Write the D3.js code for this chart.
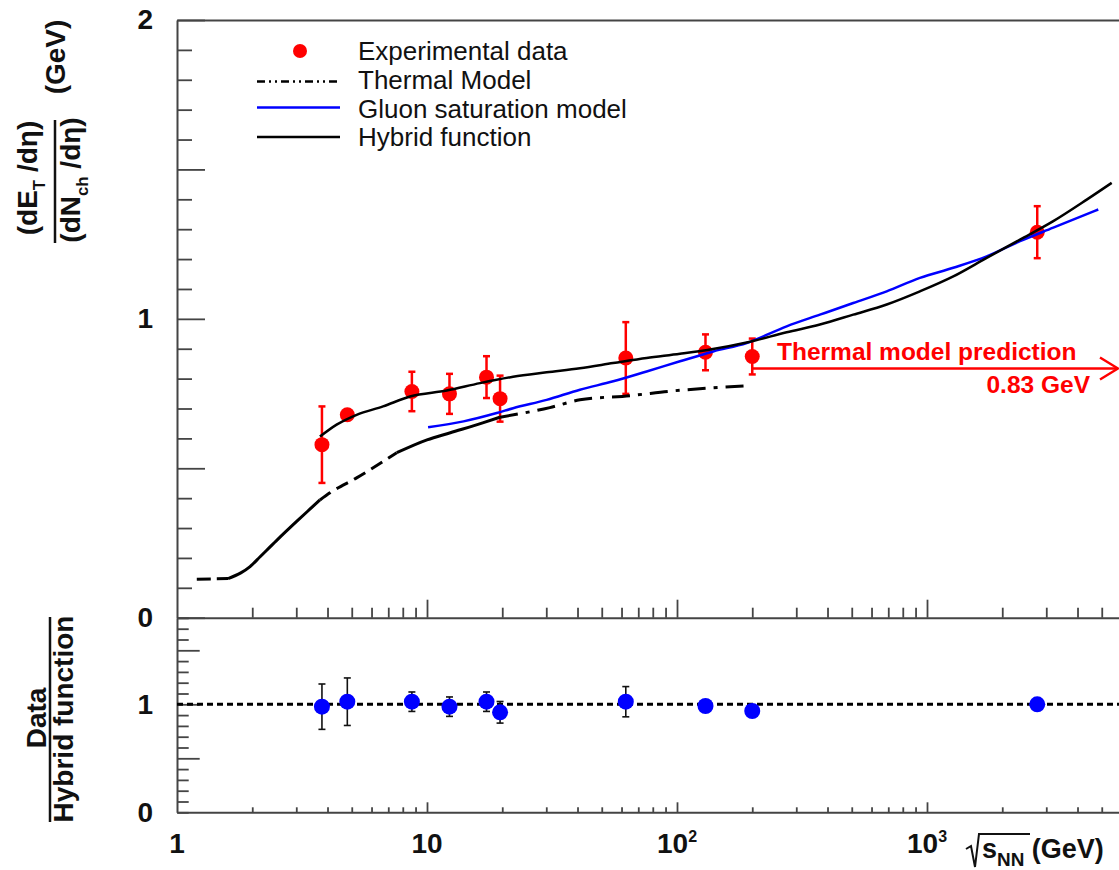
<!DOCTYPE html>
<html><head><meta charset="utf-8">
<script src="https://cdn.jsdelivr.net/npm/d3@7"></script>
<style>
body{margin:0;background:#fff}
svg{display:block}
text{font-family:"Liberation Sans",Arial,Helvetica,sans-serif}
</style>
</head><body>
<svg id="c" width="1119" height="870"></svg>
<script>
// ---------------- data ----------------
const energies   = [3.8, 4.8, 8.7, 12.3, 17.3, 19.6, 62.4, 130, 200, 2760];
const etPerNch   = [0.579, 0.679, 0.757, 0.749, 0.805, 0.733, 0.869, 0.888, 0.874, 1.290];
const etPerNchErr= [0.128, 0, 0.066, 0.067, 0.070, 0.077, 0.120, 0.060, 0.060, 0.087];
const ratioVals  = [0.978, 1.024, 1.024, 0.978, 1.024, 0.926, 1.024, 0.984, 0.938, 1.000];
const ratioErr   = [0.21, 0.22, 0.09, 0.09, 0.09, 0.10, 0.14, 0, 0, 0];

const thermalX = [1.2, 1.6, 1.8, 1.96, 2.15, 2.5, 3.01, 3.4, 3.73, 4.09, 5.23, 7.57, 10, 12.4, 16.7, 19.6, 31, 40.9, 64.9, 96.4, 139, 192];
const thermalY = [0.129, 0.131, 0.150, 0.171, 0.204, 0.258, 0.322, 0.363, 0.394, 0.418, 0.468, 0.552, 0.595, 0.619, 0.652, 0.671, 0.703, 0.729, 0.743, 0.759, 0.769, 0.776];

const gluonX = [10.1, 14.0, 19.0, 22.1, 30.1, 40.9, 55.6, 75.6, 102.8, 139.7, 190, 274.6, 373, 507, 690, 937, 1274, 1733, 2355, 3200, 4842];
const gluonY = [0.637, 0.657, 0.685, 0.701, 0.729, 0.763, 0.791, 0.824, 0.858, 0.891, 0.919, 0.975, 1.014, 1.053, 1.092, 1.137, 1.171, 1.209, 1.260, 1.305, 1.366];

const hybridX = [3.73, 4.35, 5.23, 6.67, 8.55, 12.0, 16.3, 22.1, 30.1, 40.9, 55.5, 75.6, 102.8, 139.3, 190, 274.6, 373, 507, 690, 937, 1274, 1733, 2355, 3200, 4355, 5480];
const hybridY = [0.606, 0.646, 0.679, 0.707, 0.740, 0.760, 0.785, 0.806, 0.821, 0.835, 0.852, 0.869, 0.883, 0.899, 0.921, 0.955, 0.981, 1.014, 1.048, 1.092, 1.142, 1.204, 1.265, 1.327, 1.399, 1.455];

const topYLabels    = [0, 1, 2];
const bottomYLabels = [0, 1];
const xTickLabels   = [["1", null], ["10", null], ["10", "2"], ["10", "3"]];
const xTickValues   = [1, 10, 100, 1000];
const legendItems   = ["Experimental data", "Thermal Model", "Gluon saturation model", "Hybrid function"];
const thermalPrediction = "0.83 GeV";

// ---------------- setup ----------------
const svg = d3.select("#c");
const X0 = 177, X1 = 1119;
const x  = d3.scaleLog().domain([1, Math.pow(10, (X1 - X0) / 250)]).range([X0, X1]);
const yT = d3.scaleLinear().domain([0, 2]).range([617.7, 20]);
const yB = d3.scaleLinear().domain([0, 1.8]).range([812.3, 617.9]);

const AX = "#444", RED = "#ff0000", BLUE = "#0000ff";
const FONT = '"Liberation Sans",Arial,Helvetica,sans-serif';

function rich(parent, parts, size, weight, fill, anchor, subScale) {
  const sc = subScale || 0.6;
  const t = parent.append("text").attr("font-size", size).attr("font-weight", weight)
    .attr("fill", fill).attr("text-anchor", anchor);
  let cur = 0;
  parts.forEach(p => {
    const [s, kind] = Array.isArray(p) ? p : [p, null];
    const target = kind === "sub" ? size * 0.3 : kind === "sup" ? -size * 0.4 : 0;
    const fs = kind ? size * sc : size;
    t.append("tspan").attr("font-size", fs).attr("dy", target - cur).text(s);
    cur = target;
  });
  return t;
}
function styleAxis(g) {
  g.select(".domain").attr("stroke", AX).attr("stroke-width", 2);
  g.selectAll(".tick line").attr("stroke", AX).attr("stroke-width", 1.8);
  g.attr("font-family", FONT).attr("font-size", 28).attr("font-weight", "bold");
  g.selectAll(".tick text").attr("fill", "#111");
}

// x ticks (log minor)
const xMinor = [];
for (let d = 1; d <= 1000; d *= 10) for (let k = 1; k <= 9; k++) { const v = d * k; if (v <= x.domain()[1]) xMinor.push(v); }
const isDecade = v => Math.abs(Math.log10(v) - Math.round(Math.log10(v))) < 1e-9;

// ---------------- top panel axes ----------------
const topTicks = d3.range(0, 21).map(i => +(i * 0.1).toFixed(1));
const gLT = svg.append("g").attr("transform", `translate(${X0},0)`)
  .call(d3.axisLeft(yT).tickValues(topTicks).tickSizeInner(-15).tickSizeOuter(0).tickPadding(24)
    .tickFormat(v => topYLabels.includes(v) ? String(v) : ""));
styleAxis(gLT);
gLT.selectAll(".tick line").filter(d => Math.abs(d * 2 - Math.round(d * 2)) < 1e-6).attr("x2", 28);

const gBT = svg.append("g").attr("transform", `translate(0,${yT(0)})`)
  .call(d3.axisBottom(x).tickValues(xMinor.filter(v => v > 1)).tickSizeInner(-10).tickSizeOuter(0).tickFormat(""));
styleAxis(gBT);
gBT.selectAll(".tick line").filter(d => isDecade(d)).attr("y2", -18);

const gTop = svg.append("g").attr("transform", `translate(0,${yT(2)})`)
  .call(d3.axisTop(x).tickValues([]).tickSizeOuter(0));
styleAxis(gTop);

// ---------------- bottom panel axes ----------------
const botTicks = d3.range(0, 19).map(i => +(i * 0.1).toFixed(1));
const gLB = svg.append("g").attr("transform", `translate(${X0},0)`)
  .call(d3.axisLeft(yB).tickValues(botTicks).tickSizeInner(-11.7).tickSizeOuter(0).tickPadding(24)
    .tickFormat(v => bottomYLabels.includes(v) ? String(v) : ""));
styleAxis(gLB);
gLB.selectAll(".tick line").filter(d => Math.abs(d * 2 - Math.round(d * 2)) < 1e-6 && d > 0).attr("x2", 22.7);

const gBB = svg.append("g").attr("transform", `translate(0,${yB(0)})`)
  .call(d3.axisBottom(x).tickValues(xMinor.filter(v => v > 1)).tickSizeInner(-5).tickSizeOuter(0).tickFormat(""));
styleAxis(gBB);
gBB.selectAll(".tick line").filter(d => isDecade(d)).attr("y2", -10);

// x tick labels
xTickValues.forEach((v, i) => {
  const [base, sup] = xTickLabels[i];
  const g = svg.append("g").attr("transform", `translate(${x(v)},853)`);
  const t = g.append("text").attr("font-size", 28).attr("font-weight", "bold").attr("fill", "#111").attr("text-anchor", "middle");
  t.append("tspan").text(base);
  if (sup) t.append("tspan").attr("font-size", 16).attr("dy", -11).text(sup);
});

// x-axis title  √s_NN (GeV)
svg.append("path").attr("d", "M966,849 L971,846 L975,867 L979,834 L1030,834")
  .attr("fill", "none").attr("stroke", "#111").attr("stroke-width", 2);
{
  const g = svg.append("g").attr("transform", "translate(982,858)");
  rich(g, ["s", ["NN", "sub"], "  (GeV)"], 27, "bold", "#111", "start", 0.7);
}

// y-axis titles (top)
{
  const g1 = svg.append("g").attr("transform", "translate(37,178) rotate(-90)");
  rich(g1, ["(dE", ["T", "sub"], " /dη)"], 28, "bold", "#111", "middle");
  const g2 = svg.append("g").attr("transform", "translate(80,180) rotate(-90)");
  rich(g2, ["(dN", ["ch", "sub"], " /dη)"], 28, "bold", "#111", "middle");
  svg.append("line").attr("x1", 55).attr("x2", 55).attr("y1", 120).attr("y2", 243)
    .attr("stroke", "#111").attr("stroke-width", 2.5);
  const g3 = svg.append("g").attr("transform", "translate(65,57) rotate(-90)");
  rich(g3, ["(GeV)"], 28, "bold", "#111", "middle");
}
// y-axis title (bottom)
{
  const g1 = svg.append("g").attr("transform", "translate(46,718) rotate(-90)");
  rich(g1, ["Data"], 28, "bold", "#111", "middle");
  svg.append("line").attr("x1", 50).attr("x2", 50).attr("y1", 617).attr("y2", 822)
    .attr("stroke", "#111").attr("stroke-width", 2.5);
  const g2 = svg.append("g").attr("transform", "translate(73,719) rotate(-90)");
  rich(g2, ["Hybrid function"], 28, "bold", "#111", "middle");
}

// ---------------- top panel data ----------------
const pts = energies.map((e, i) => ({ e, v: etPerNch[i], err: etPerNchErr[i] }));
const gErr = svg.append("g").attr("stroke", RED).attr("stroke-width", 2.5);
pts.filter(p => p.err > 0).forEach(p => {
  const cx = x(p.e), y1 = yT(p.v + p.err), y2 = yT(p.v - p.err);
  gErr.append("line").attr("x1", cx).attr("x2", cx).attr("y1", y1).attr("y2", y2);
  gErr.append("line").attr("x1", cx - 3.5).attr("x2", cx + 3.5).attr("y1", y1).attr("y2", y1);
  gErr.append("line").attr("x1", cx - 3.5).attr("x2", cx + 3.5).attr("y1", y2).attr("y2", y2);
});
svg.append("g").selectAll("circle").data(pts).join("circle")
  .attr("cx", p => x(p.e)).attr("cy", p => yT(p.v)).attr("r", 7.5).attr("fill", RED);

const lineT = d3.line().x(d => x(d[0])).y(d => yT(d[1])).curve(d3.curveMonotoneX);
// thermal model, drawn in pieces with the line pattern seen in the figure
const thermal = thermalX.map((v, i) => [v, thermalY[i]]);
const thermalPieces = [
  { from: 1.2, to: 1.6, dash: "14,6" },
  { from: 1.6, to: 3.73, dash: null },
  { from: 3.73, to: 7.57, dash: "13,7" },
  { from: 7.57, to: 19.6, dash: null },
  { from: 19.6, to: 192, dash: "18,8,4,8" }
];
thermalPieces.forEach(pc => {
  const seg = thermal.filter(d => d[0] >= pc.from - 1e-9 && d[0] <= pc.to + 1e-9);
  svg.append("path").attr("d", lineT(seg)).attr("fill", "none").attr("stroke", "#000")
    .attr("stroke-width", 3).attr("stroke-dasharray", pc.dash);
});
svg.append("path").attr("d", lineT(gluonX.map((v, i) => [v, gluonY[i]])))
  .attr("fill", "none").attr("stroke", BLUE).attr("stroke-width", 2.5);
svg.append("path").attr("d", lineT(hybridX.map((v, i) => [v, hybridY[i]])))
  .attr("fill", "none").attr("stroke", "#000").attr("stroke-width", 2.5);

// thermal model prediction annotation
{
  const ax = x(energies[8]), ay = 368.5;
  const ga = svg.append("g").attr("stroke", RED).attr("stroke-width", 2.5).attr("fill", "none");
  ga.append("line").attr("x1", ax).attr("x2", 1118).attr("y1", ay).attr("y2", ay);
  ga.append("path").attr("d", `M1100,${ay - 11} L1118,${ay} L1100,${ay + 11}`);
  svg.append("text").attr("x", 777).attr("y", 360).attr("font-size", 24.5).attr("font-weight", "bold")
    .attr("fill", RED).text("Thermal model prediction");
  svg.append("text").attr("x", 1090).attr("y", 393).attr("font-size", 24.5).attr("font-weight", "bold")
    .attr("fill", RED).attr("text-anchor", "end").text(thermalPrediction);
}

// ---------------- legend ----------------
{
  const rows = [51, 80, 108.5, 136.5];
  const lg = svg.append("g");
  lg.append("circle").attr("cx", 300).attr("cy", rows[0]).attr("r", 7).attr("fill", RED);
  lg.append("line").attr("x1", 257).attr("x2", 340).attr("y1", rows[1] + 1.5).attr("y2", rows[1] + 1.5)
    .attr("stroke", "#000").attr("stroke-width", 2.5).attr("stroke-dasharray", "8,4,2,4,2,4");
  lg.append("line").attr("x1", 257).attr("x2", 340).attr("y1", rows[2] - 1).attr("y2", rows[2] - 1)
    .attr("stroke", BLUE).attr("stroke-width", 2.5);
  lg.append("line").attr("x1", 257).attr("x2", 340).attr("y1", rows[3] + 0.5).attr("y2", rows[3] + 0.5)
    .attr("stroke", "#000").attr("stroke-width", 2.5);
  legendItems.forEach((s, i) => {
    lg.append("text").attr("x", 358).attr("y", rows[i] + 9).attr("font-size", 26).attr("fill", "#111").text(s);
  });
}

// ---------------- bottom panel data ----------------
svg.append("line").attr("x1", x(1)).attr("x2", X1).attr("y1", yB(1)).attr("y2", yB(1))
  .attr("stroke", "#000").attr("stroke-width", 3).attr("stroke-dasharray", "6,4");
const rpts = energies.map((e, i) => ({ e, v: ratioVals[i], err: ratioErr[i] }));
const gErrB = svg.append("g").attr("stroke", "#111").attr("stroke-width", 1.6);
rpts.filter(p => p.err > 0).forEach(p => {
  const cx = x(p.e), y1 = yB(p.v + p.err), y2 = yB(p.v - p.err);
  gErrB.append("line").attr("x1", cx).attr("x2", cx).attr("y1", y1).attr("y2", y2);
  gErrB.append("line").attr("x1", cx - 3.5).attr("x2", cx + 3.5).attr("y1", y1).attr("y2", y1);
  gErrB.append("line").attr("x1", cx - 3.5).attr("x2", cx + 3.5).attr("y1", y2).attr("y2", y2);
});
svg.append("g").selectAll("circle").data(rpts).join("circle")
  .attr("cx", p => x(p.e)).attr("cy", p => yB(p.v)).attr("r", 8).attr("fill", BLUE);
</script>
</body></html>
